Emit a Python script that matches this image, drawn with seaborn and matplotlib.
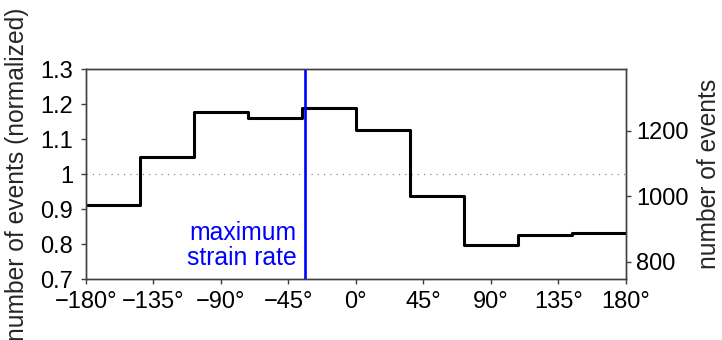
import numpy as np
import pandas as pd
import matplotlib
matplotlib.use('Agg')
import matplotlib.pyplot as plt
import matplotlib.transforms as mtransforms
import seaborn as sns

# Phase bins (deg) and number of events in each bin
bin_edges = [-180, -144, -108, -72, -36, 0, 36, 72, 108, 144, 180]
event_counts = [972, 1121, 1256, 1239, 1268, 1202, 1002, 851, 881, 888]
strain_rate_max = -34

x_ticks = [-180, -135, -90, -45, 0, 45, 90, 135, 180]
x_tick_labels = ['−180°', '−135°', '−90°', '−45°', '0°', '45°', '90°', '135°', '180°']
y_ticks = [0.7, 0.8, 0.9, 1.0, 1.1, 1.2, 1.3]
y_tick_labels = ['0.7', '0.8', '0.9', '1', '1.1', '1.2', '1.3']
count_ticks = [800, 1000, 1200]

# normalize by the mean count per bin
mean_count = np.mean(event_counts)
df = pd.DataFrame({
    'phase': [(a + b) / 2 for a, b in zip(bin_edges[:-1], bin_edges[1:])],
    'norm': np.array(event_counts) / mean_count,
})

sns.set_style('ticks')
plt.rcParams['font.family'] = ['Liberation Sans', 'DejaVu Sans']
plt.rcParams['axes.unicode_minus'] = True

fig = plt.figure(figsize=(7.22, 3.4), dpi=100)
ax = fig.add_axes([0.1187, 0.1794, 0.7483, 0.6176])

sns.histplot(data=df, x='phase', weights='norm', bins=bin_edges,
             element='step', fill=False, color='black', linewidth=2.2, ax=ax)

ax.axhline(1.0, color='#8a8a8a', lw=0.9, linestyle=(0, (1, 4)), zorder=1)
ax.axvline(strain_rate_max, color='#0000ff', lw=1.9, zorder=4)
ax.text(strain_rate_max - 5.5, 0.797, 'maximum\nstrain rate', color='#0000ff',
        fontsize=17.8, ha='right', va='center', multialignment='right', linespacing=1.05)

ax.set_xlim(-180, 180)
ax.set_ylim(0.7, 1.3)
ax.set_xticks(x_ticks)
ax.set_xticklabels(x_tick_labels)
ax.set_yticks(y_ticks)
ax.set_yticklabels(y_tick_labels)
ax.set_xlabel('')
ax.set_ylabel('number of events (normalized)', fontsize=17.7)
ax.yaxis.set_label_coords(-0.105, 0.5)

# the x tick labels sit a bit left of their ticks in the original
shift = mtransforms.ScaledTranslation(-16 / 100, 0, fig.dpi_scale_trans)
for lab in ax.get_xticklabels():
    lab.set_transform(lab.get_transform() + shift)

ax2 = ax.twinx()
ax2.set_ylim(0.7 * mean_count, 1.3 * mean_count)
ax2.set_yticks(count_ticks)
ax2.set_ylabel('number of events', fontsize=17.7)
ax2.yaxis.set_label_coords(1.131, 0.5)

for a in (ax, ax2):
    for s in a.spines.values():
        s.set_color('#404040')
        s.set_linewidth(1.0)
    a.tick_params(direction='out', length=3.5, width=1, color='#404040',
                  labelsize=17, labelcolor='black')
ax.tick_params(axis='y', pad=5.5)
ax.tick_params(axis='x', pad=5)
ax2.tick_params(axis='y', pad=4)

plt.savefig('out.png', dpi=100)
